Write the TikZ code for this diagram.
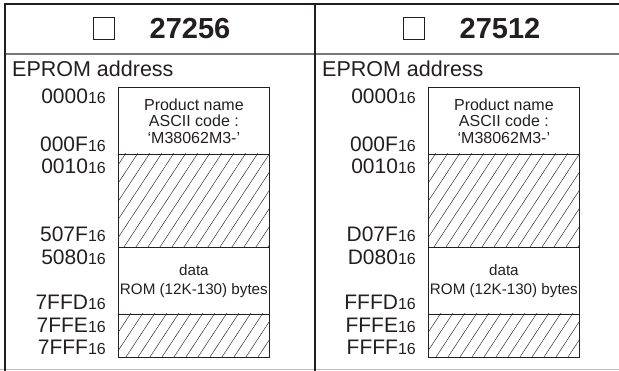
\documentclass[tikz,border=0pt]{standalone}
\usepackage{fontspec}
\setmainfont{Liberation Sans}
\usepackage{tikz}
\usetikzlibrary{positioning}
\definecolor{inkGray}{RGB}{35,31,32}
\definecolor{ruleGray}{RGB}{120,120,120}
\newcommand{\hexsub}[1]{#1{\fontsize{16}{16}\selectfont 16}}

\begin{document}
\begin{tikzpicture}[
    x=1pt, y=-1pt,
    region/.style={draw=inkGray, line width=0.8pt, minimum width=151pt, inner sep=0pt,
                   anchor=north west, align=center, text=inkGray,
                   font=\fontsize{16}{16.5}\selectfont},
    addr/.style={anchor=base east, inner sep=0pt, text=inkGray,
                 font=\fontsize{21}{21}\selectfont},
    hatch/.style={inkGray, line width=0.45pt},
  ]
    \useasboundingbox (0,0) rectangle (619,371);

    % frame
    \draw[ruleGray, line width=1.4pt] (5,54) -- (619,54);
    \draw[ruleGray!50, line width=1pt] (0,369.5) -- (619,369.5);
    \draw[inkGray, line width=2pt] (4,4) -- (619,4);
    \draw[inkGray, line width=2.4pt] (5,3) -- (5,371);
    \draw[inkGray, line width=2.4pt] (315,3) -- (315,371);

    \foreach \ox/\title/\hb/\fb [count=\i] in {0/27256/5/7, 310/27512/D/F} {
      \begin{scope}[xshift=\ox pt]
        % header
        \node[draw=inkGray, line width=0.8pt, minimum width=21pt, minimum height=22pt,
              anchor=north west, inner sep=0pt] (check\i) at (93,17) {};
        \node[anchor=base, inner sep=0pt, text=inkGray,
              font=\fontsize{29}{29}\selectfont\bfseries] (title\i) at (190,39) {\title};
        \node[anchor=base west, inner sep=0pt, text=inkGray,
              font=\fontsize{21.5}{22}\selectfont] (eprom\i) at (12,77) {EPROM address};

        % memory map
        \node[region, minimum height=67pt] (prod\i) at (118,87)
          {Product name\\ASCII code :\\‘M38062M3-’};
        \node[region, minimum height=93pt] (hatchA\i) at (118,154) {};
        \node[region, minimum height=67pt, font=\fontsize{15.2}{19}\selectfont] (data\i) at (118,247)
          {data\\ROM (12K-130) bytes};
        \node[region, minimum height=43pt] (hatchB\i) at (118,314) {};

        \begin{scope}
          \clip (hatchA\i.south west) rectangle (hatchA\i.north east);
          \foreach \k in {0,...,20} \draw[hatch] (\k*12+50,250) -- ++(66,-100);
        \end{scope}
        \begin{scope}
          \clip (hatchB\i.south west) rectangle (hatchB\i.north east);
          \foreach \k in {0,...,17} \draw[hatch] (\k*12+88,360) -- ++(33,-50);
        \end{scope}

        % addresses
        \node[addr] (a1\i) at (106,104) {\hexsub{0000}};
        \node[addr] (a2\i) at (106,152) {\hexsub{000F}};
        \node[addr] (a3\i) at (106,174) {\hexsub{0010}};
        \node[addr] (a4\i) at (106,242) {\hexsub{\hb07F}};
        \node[addr] (a5\i) at (106,265) {\hexsub{\hb080}};
        \node[addr] (a6\i) at (106,310) {\hexsub{{\fb}FFD}};
        \node[addr] (a7\i) at (106,333) {\hexsub{{\fb}FFE}};
        \node[addr] (a8\i) at (106,355) {\hexsub{{\fb}FFF}};
      \end{scope}
    }
\end{tikzpicture}
\end{document}
